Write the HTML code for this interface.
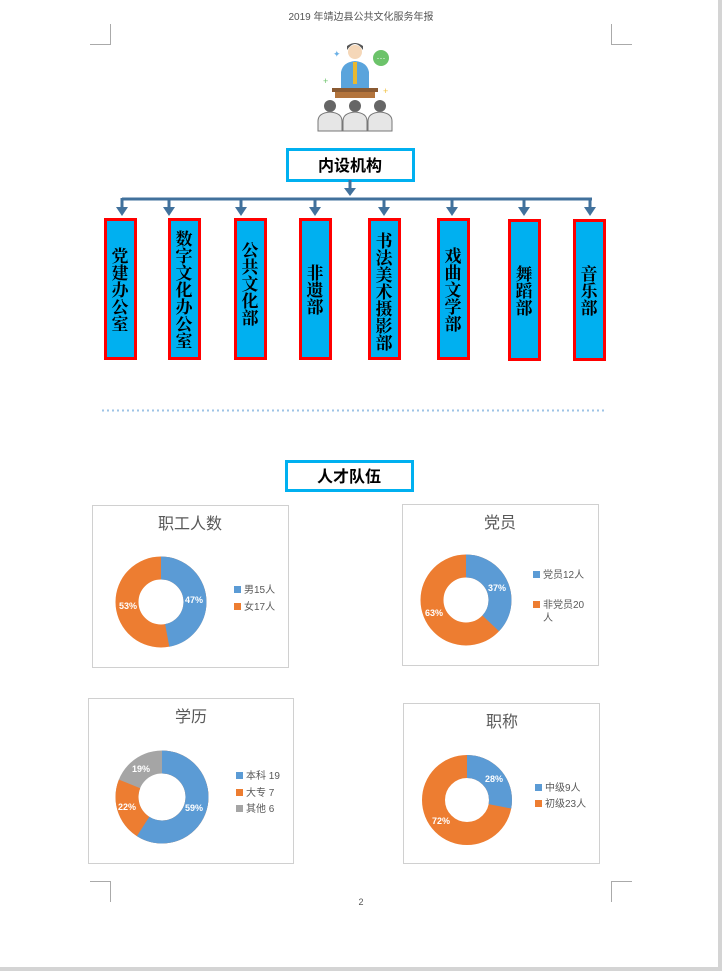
<!DOCTYPE html>
<html><head><meta charset="utf-8"><style>
body{margin:0;background:#fff;}
svg{display:block}
text{font-family:"Liberation Sans","Noto Sans CJK SC",sans-serif}
.v{font-family:"Liberation Serif","Noto Serif CJK SC",serif;font-weight:bold;font-size:17px;fill:#000}
</style></head><body>
<svg width="722" height="971" viewBox="0 0 722 971" xmlns="http://www.w3.org/2000/svg">
<rect x="0" y="0" width="722" height="971" fill="#fff"/>
<rect x="718" y="0" width="4" height="971" fill="#d4d4d4"/>
<rect x="0" y="967" width="722" height="4" fill="#d4d4d4"/>
<text x="361" y="20" font-size="10" fill="#555" text-anchor="middle">2019 年靖边县公共文化服务年报</text>
<text x="361" y="905" font-size="9" fill="#555" text-anchor="middle">2</text>
<g stroke="#aaa" stroke-width="1" fill="none">
<path d="M90 44.5H110.5V24"/><path d="M632 44.5H611.5V24"/>
<path d="M90 881.5H110.5V902"/><path d="M632 881.5H611.5V902"/>
</g>
<!-- icon -->
<g>
<circle cx="355" cy="52" r="7" fill="#f5d7b8"/><path d="M347 50q8-12 16 0v-4q-8-6-16 0z" fill="#555"/>
<path d="M341 72q2-10 14-11q12 1 14 11v16h-28z" fill="#5aa4dc"/>
<rect x="353" y="62" width="4" height="22" fill="#e8b830"/>
<circle cx="381" cy="58" r="8" fill="#6cc36a"/><text x="381" y="61" font-size="9" fill="#fff" text-anchor="middle">···</text>
<rect x="332" y="88" width="46" height="4" fill="#8a5a32"/>
<rect x="335" y="92" width="40" height="6" fill="#b3743c"/>
<text x="333" y="57" font-size="9" fill="#6ab0e6">✦</text>
<text x="323" y="84" font-size="9" fill="#6cc36a">+</text>
<text x="383" y="94" font-size="9" fill="#f0c040">+</text>
<g fill="#666"><circle cx="330" cy="106" r="6"/><circle cx="355" cy="106" r="6"/><circle cx="380" cy="106" r="6"/></g>
<g fill="#e6e6e6" stroke="#777" stroke-width="1"><path d="M318 131v-10q0-8 12-9q12 1 12 9v10z"/><path d="M343 131v-10q0-8 12-9q12 1 12 9v10z"/><path d="M368 131v-10q0-8 12-9q12 1 12 9v10z"/></g>
</g>
<!-- header box -->
<rect x="287.5" y="149.5" width="126" height="31" fill="#fff" stroke="#00b0f0" stroke-width="3"/>
<text x="350" y="171" font-size="16" font-weight="bold" text-anchor="middle" fill="#000" font-family="Liberation Serif,Noto Serif CJK SC,serif">内设机构</text>
<g stroke="#41719c" stroke-width="3" fill="none">
<path d="M350 180V193"/><path d="M122 199H592"/>
<path d="M122 198V210"/><path d="M169 199V210"/><path d="M241 199V210"/><path d="M315 199V210"/><path d="M384 199V210"/><path d="M452 199V210"/><path d="M524 199V210"/><path d="M590 198V210"/>
</g>
<g fill="#41719c">
<path d="M344 188h12l-6 8z"/>
<path d="M116 207h12l-6 9z"/><path d="M163 207h12l-6 9z"/><path d="M235 207h12l-6 9z"/><path d="M309 207h12l-6 9z"/><path d="M378 207h12l-6 9z"/><path d="M446 207h12l-6 9z"/><path d="M518 207h12l-6 9z"/><path d="M584 207h12l-6 9z"/>
</g>
<g fill="#00b0f0" stroke="#ff0000" stroke-width="3">
<rect x="105.5" y="219.5" width="30" height="139"/>
<rect x="169.5" y="219.5" width="30" height="139"/>
<rect x="235.5" y="219.5" width="30" height="139"/>
<rect x="300.5" y="219.5" width="30" height="139"/>
<rect x="369.5" y="219.5" width="30" height="139"/>
<rect x="438.5" y="219.5" width="30" height="139"/>
<rect x="509.5" y="220.5" width="30" height="139"/>
<rect x="574.5" y="220.5" width="30" height="139"/>
</g>
<g class="v" text-anchor="middle">
<text class="v" x="120"><tspan x="120" y="262">党</tspan><tspan x="120" dy="17">建</tspan><tspan x="120" dy="17">办</tspan><tspan x="120" dy="17">公</tspan><tspan x="120" dy="17">室</tspan></text>
<text class="v" x="184"><tspan x="184" y="245">数</tspan><tspan x="184" dy="17">字</tspan><tspan x="184" dy="17">文</tspan><tspan x="184" dy="17">化</tspan><tspan x="184" dy="17">办</tspan><tspan x="184" dy="17">公</tspan><tspan x="184" dy="17">室</tspan></text>
<text class="v"><tspan x="250" y="256">公</tspan><tspan x="250" dy="17">共</tspan><tspan x="250" dy="17">文</tspan><tspan x="250" dy="17">化</tspan><tspan x="250" dy="17">部</tspan></text>
<text class="v"><tspan x="315" y="279">非</tspan><tspan x="315" dy="17">遗</tspan><tspan x="315" dy="17">部</tspan></text>
<text class="v"><tspan x="384" y="247">书</tspan><tspan x="384" dy="17">法</tspan><tspan x="384" dy="17">美</tspan><tspan x="384" dy="17">术</tspan><tspan x="384" dy="17">摄</tspan><tspan x="384" dy="17">影</tspan><tspan x="384" dy="17">部</tspan></text>
<text class="v"><tspan x="453" y="262">戏</tspan><tspan x="453" dy="17">曲</tspan><tspan x="453" dy="17">文</tspan><tspan x="453" dy="17">学</tspan><tspan x="453" dy="17">部</tspan></text>
<text class="v"><tspan x="524" y="280">舞</tspan><tspan x="524" dy="17">蹈</tspan><tspan x="524" dy="17">部</tspan></text>
<text class="v"><tspan x="589" y="280">音</tspan><tspan x="589" dy="17">乐</tspan><tspan x="589" dy="17">部</tspan></text>
</g>
<line x1="102" y1="410.5" x2="606" y2="410.5" stroke="#9dc3e6" stroke-width="2" stroke-dasharray="2,3"/>
<rect x="286.5" y="461.5" width="126" height="29" fill="#fff" stroke="#00b0f0" stroke-width="3"/>
<text x="349" y="482" font-size="16" font-weight="bold" text-anchor="middle" fill="#000" font-family="Liberation Serif,Noto Serif CJK SC,serif">人才队伍</text>
<!-- charts -->
<g fill="#fff" stroke="#d0d0d0" stroke-width="1">
<rect x="92.5" y="505.5" width="196" height="162"/>
<rect x="402.5" y="504.5" width="196" height="161"/>
<rect x="88.5" y="698.5" width="205" height="165"/>
<rect x="403.5" y="703.5" width="196" height="160"/>
</g>
<g font-size="16" fill="#595959" text-anchor="middle">
<text x="190" y="529">职工人数</text><text x="500" y="528">党员</text><text x="191" y="722">学历</text><text x="502" y="727">职称</text>
</g>
<!-- donut helper: r=34 width=23, circumference 213.6 -->
<g fill="none" stroke-width="23">
<g transform="translate(161,602) rotate(-90)">
<circle r="34" stroke="#ed7d31"/>
<circle r="34" stroke="#5b9bd5" stroke-dasharray="100.4 300"/>
</g>
<g transform="translate(466,600) rotate(-90)">
<circle r="34" stroke="#ed7d31"/>
<circle r="34" stroke="#5b9bd5" stroke-dasharray="79 300"/>
</g>
<g transform="translate(162,797) rotate(-90)">
<circle r="35" stroke="#a5a5a5"/>
<circle r="35" stroke="#ed7d31" stroke-dasharray="178.1 300"/>
<circle r="35" stroke="#5b9bd5" stroke-dasharray="129.7 300"/>
</g>
<g transform="translate(467,800) rotate(-90)">
<circle r="33.5" stroke="#ed7d31"/>
<circle r="33.5" stroke="#5b9bd5" stroke-dasharray="58.9 300"/>
</g>
</g>
<g font-size="9" font-weight="bold" fill="#fff" text-anchor="middle">
<text x="194" y="603">47%</text><text x="128" y="609">53%</text>
<text x="497" y="591">37%</text><text x="434" y="616">63%</text>
<text x="194" y="811">59%</text><text x="127" y="810">22%</text><text x="141" y="772">19%</text>
<text x="494" y="782">28%</text><text x="441" y="824">72%</text>
</g>
<g font-size="10" fill="#595959">
<rect x="234" y="586" width="7" height="7" fill="#5b9bd5"/><text x="244" y="593">男15人</text>
<rect x="234" y="603" width="7" height="7" fill="#ed7d31"/><text x="244" y="610">女17人</text>
<rect x="533" y="571" width="7" height="7" fill="#5b9bd5"/><text x="543" y="578">党员12人</text>
<rect x="533" y="601" width="7" height="7" fill="#ed7d31"/><text x="543" y="608">非党员20</text><text x="543" y="621">人</text>
<rect x="236" y="772" width="7" height="7" fill="#5b9bd5"/><text x="246" y="779">本科 19</text>
<rect x="236" y="789" width="7" height="7" fill="#ed7d31"/><text x="246" y="796">大专 7</text>
<rect x="236" y="805" width="7" height="7" fill="#a5a5a5"/><text x="246" y="812">其他 6</text>
<rect x="535" y="784" width="7" height="7" fill="#5b9bd5"/><text x="545" y="791">中级9人</text>
<rect x="535" y="800" width="7" height="7" fill="#ed7d31"/><text x="545" y="807">初级23人</text>
</g>
</svg>
</body></html>
